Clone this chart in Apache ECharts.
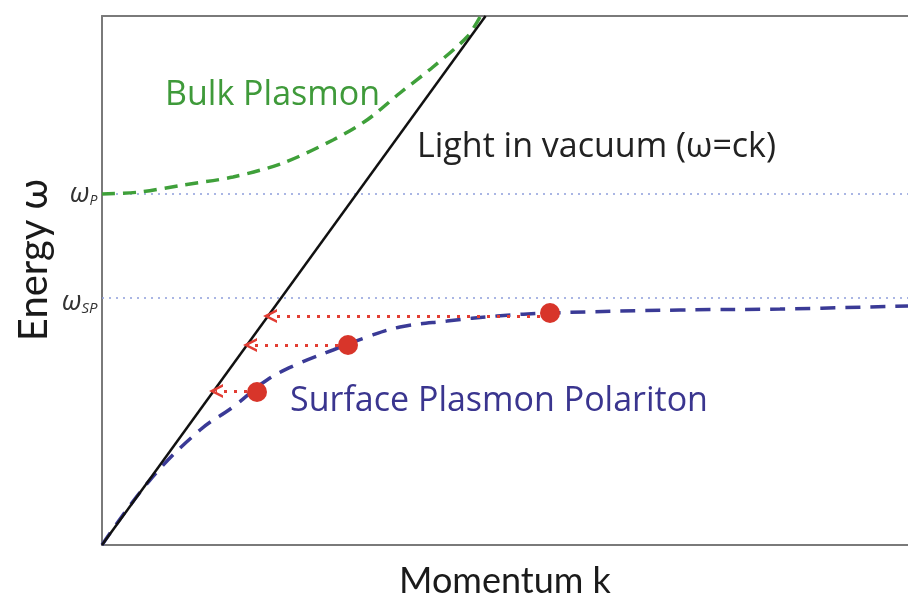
<!DOCTYPE html>
<html><head><meta charset="utf-8">
<script src="https://cdn.jsdelivr.net/npm/echarts@6/dist/echarts.min.js"></script>
<style>html,body{margin:0;padding:0;background:#fff}#c{width:908px;height:601px}</style>
</head><body><div id="c"></div>
<script>
// Units: momentum k and energy ω in arbitrary units
const kMax = 8.06, wMax = 5.29;
const omegaP = 3.51, omegaSP = 2.47;
const lightLine = [[0, 0], [3.836, 5.29]];
const bulkPlasmon = [[0,3.51],[0.38,3.53],[0.81,3.60],[1.31,3.68],[1.81,3.82],[2.31,4.05],[2.65,4.25],[2.98,4.52],[3.31,4.78],[3.65,5.08],[3.78,5.28]];
const spp = [[0,0],[0.48,0.65],[0.98,1.15],[1.31,1.38],[1.65,1.65],[1.98,1.82],[2.31,1.95],[2.65,2.08],[2.98,2.18],[3.45,2.24],[3.95,2.29],[4.48,2.32],[5.78,2.35],[6.78,2.36],[8.06,2.39]];
const dots = [[1.55,1.53],[2.46,2.00],[4.48,2.32]];
const arrows = [
  [[1.45,1.54],[1.14,1.54]],
  [[2.36,2.00],[1.48,2.00]],
  [[4.38,2.29],[1.68,2.29]]
];
const chevron = 'path://M0,10 L5,0 L10,10 L8,10 L5,4 L2,10 Z';

const chart = echarts.init(document.getElementById('c'), null, {renderer:'canvas'});
const font = '"Open Sans", Lato, sans-serif';
const axFont = 'Lato, "Open Sans", sans-serif';
const hideAxis = {axisTick:{show:false}, axisLabel:{show:false}, splitLine:{show:false}};
const wRich = {w:{fontSize:27, fontStyle:'italic', color:'#333', fontFamily:font}, s:{fontSize:14, fontStyle:'italic', color:'#333', padding:[14,0,0,0], fontFamily:font}};
chart.setOption({
  animation:false,
  grid:{left:102, right:0, top:16, bottom:56, show:false, outerBoundsMode:'none', containLabel:false},
  xAxis:[Object.assign({type:'value', min:0, max:kMax,
    axisLine:{show:true, onZero:false, lineStyle:{color:'#7a7a7a', width:2}}}, hideAxis),
    Object.assign({type:'value', min:0, max:kMax, position:'top', axisLine:{show:true, onZero:false, lineStyle:{color:'#7a7a7a', width:2}}}, hideAxis)],
  yAxis:Object.assign({type:'value', min:0, max:wMax,
    axisLine:{show:true, onZero:false, lineStyle:{color:'#7a7a7a', width:2}}}, hideAxis),
  series:[
    {type:'line', data:[[0,omegaP],[kMax,omegaP]], symbol:'none', lineStyle:{color:'#8f9edc', width:1.6, type:[2,5]}, z:1,
      markPoint:{symbol:'circle', symbolSize:1, itemStyle:{color:'rgba(0,0,0,0)'}, data:[{coord:[0,omegaP], label:{show:true, position:'left', distance:4, formatter:'{w|ω}{s|P}', rich:wRich}}]}},
    {type:'line', data:[[0,omegaSP],[kMax,omegaSP]], symbol:'none', lineStyle:{color:'#8f9edc', width:1.6, type:[2,5]}, z:1,
      markPoint:{symbol:'circle', symbolSize:1, itemStyle:{color:'rgba(0,0,0,0)'}, data:[{coord:[0,omegaSP], label:{show:true, position:'left', distance:4, offset:[0,4], formatter:'{w|ω}{s|SP}', rich:{w:wRich.w, s:Object.assign({}, wRich.s, {fontSize:15})}}}]}},
    {type:'line', data:bulkPlasmon, smooth:0.3, symbol:'none', lineStyle:{color:'#3fa03a', width:3.5, type:[13,8]}, z:3},
    {type:'line', data:spp, smooth:0.4, symbol:'none', lineStyle:{color:'#3a3a96', width:3.5, type:[15,10]}, z:3},
    {type:'line', data:lightLine, symbol:'none', lineStyle:{color:'#111', width:2.5}, z:4},
    {type:'lines', coordinateSystem:'cartesian2d', polyline:false, z:5,
      symbol:['none', chevron], symbolSize:[18,14],
      lineStyle:{color:'#e23d33', width:3.2, type:[3,7], opacity:1},
      data:arrows.map(a=>({coords:a}))},
    {type:'scatter', data:dots, symbolSize:20, itemStyle:{color:'#d8352a', opacity:1}, z:6}
  ],
  graphic:[
    {type:'text', x:34, y:260, rotation:Math.PI/2, style:{text:'Energy ω', font:'40px '+axFont, fill:'#1a1a1a', textAlign:'center', textVerticalAlign:'middle'}},
    {type:'text', x:505, y:581, style:{text:'Momentum k', font:'36px '+axFont, fill:'#1a1a1a', textAlign:'center', textVerticalAlign:'middle'}},
    {type:'text', left:165, top:78, style:{text:'Bulk Plasmon', font:'34px '+font, fill:'#3f9a3a'}},
    {type:'text', left:417, top:130, style:{text:'Light in vacuum (ω=ck)', font:'34px '+font, fill:'#222'}},
    {type:'text', left:290, top:384, style:{text:'Surface Plasmon Polariton', font:'34px '+font, fill:'#3a358f'}}
  ]
});
</script></body></html>
